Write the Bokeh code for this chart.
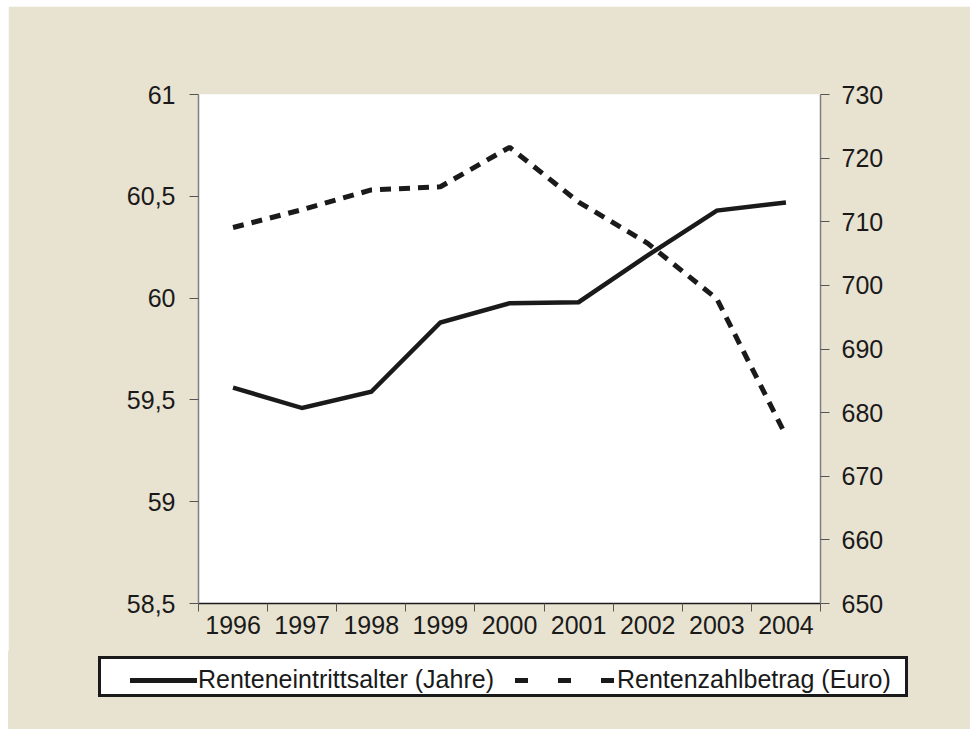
from bokeh.plotting import figure
from bokeh.layouts import column
from bokeh.models import (Range1d, LinearAxis, FixedTicker, CustomJSTickFormatter, Div)
from bokeh.embed import file_html
from bokeh.resources import INLINE

years = ["1996", "1997", "1998", "1999", "2000", "2001", "2002", "2003", "2004"]
eintrittsalter = [59.56, 59.46, 59.54, 59.88, 59.975, 59.98, 60.21, 60.43, 60.47]
zahlbetrag = [709.1, 711.9, 715.0, 715.5, 721.7, 713.1, 706.6, 697.9, 676.4]
left_ticks = [58.5, 59, 59.5, 60, 60.5, 61]
right_ticks = [650, 660, 670, 680, 690, 700, 710, 720, 730]
series_names = ["Renteneintrittsalter (Jahre)", "Rentenzahlbetrag (Euro)"]

BEIGE = "#e8e2d1"
INK = "#1a1a1a"
FONT = "Liberation Sans"
FS = "25px"

n = len(years)
xpos = [i + 0.5 for i in range(n)]

p = figure(width=962, height=645, output_backend="svg", toolbar_location=None,
           x_range=Range1d(0, n), y_range=Range1d(left_ticks[0], left_ticks[-1]),
           min_border_left=190, min_border_right=150, min_border_top=88,
           min_border_bottom=48, background_fill_color="white",
           border_fill_color=BEIGE, outline_line_color=None, margin=(6, 0, 0, 8))
p.grid.visible = False
p.extra_y_ranges = {"euro": Range1d(right_ticks[0], right_ticks[-1])}

# x axis: labels at category centres, ticks at category boundaries
xa = p.xaxis[0]
xa.ticker = FixedTicker(ticks=xpos, minor_ticks=list(range(n + 1)))
xa.formatter = CustomJSTickFormatter(args=dict(labels=years),
                                     code="return labels[Math.floor(tick)];")
xa.major_tick_line_color = None
xa.minor_tick_in = 0
xa.minor_tick_out = 8
xa.minor_tick_line_color = "#555555"
xa.axis_line_color = INK
xa.axis_line_width = 1.5
xa.major_label_standoff = 4
xa.major_label_text_font = FONT
xa.major_label_text_font_size = FS
xa.major_label_text_color = INK

comma = CustomJSTickFormatter(code="return String(tick).replace('.', ',');")

ya = p.yaxis[0]
ya.ticker = FixedTicker(ticks=left_ticks)
ya.formatter = comma
ya.minor_tick_line_color = None
ya.major_tick_in = 0
ya.major_tick_out = 9
ya.major_tick_line_color = "#555555"
ya.axis_line_color = "#808080"
ya.axis_line_width = 1.5
ya.major_label_standoff = 14
ya.major_label_text_font = FONT
ya.major_label_text_font_size = FS
ya.major_label_text_color = INK

ra = LinearAxis(y_range_name="euro", ticker=FixedTicker(ticks=right_ticks))
ra.minor_tick_line_color = None
ra.major_tick_in = 0
ra.major_tick_out = 9
ra.major_tick_line_color = "#555555"
ra.axis_line_color = "#808080"
ra.axis_line_width = 1.5
ra.major_label_standoff = 12
ra.major_label_text_font = FONT
ra.major_label_text_font_size = FS
ra.major_label_text_color = INK
p.add_layout(ra, "right")

p.line(xpos, eintrittsalter, line_width=4.5, line_color=INK, line_join="miter")
p.line(xpos, zahlbetrag, y_range_name="euro", line_width=5, line_color=INK,
       line_dash="11 8")

# legend strip below the chart (HTML, so it can extend beyond the plot frame)
legend_html = f"""
<div style="position:relative;width:962px;height:78px;background:{BEIGE};">
  <div style="position:absolute;left:90px;top:5px;width:810px;height:41px;
              border:3px solid {INK};background:#ffffff;
              font-family:'{FONT}';font-size:{FS};line-height:25px;color:{INK};">
    <div style="position:absolute;left:29px;top:19px;width:67px;height:5px;background:{INK};"></div>
    <span style="position:absolute;left:97px;top:8px;white-space:nowrap;">{series_names[0]}</span>
    <div style="position:absolute;left:414px;top:19px;width:99px;height:5px;
                background:repeating-linear-gradient(to right,{INK} 0px,{INK} 13px,transparent 13px,transparent 43px);"></div>
    <span style="position:absolute;left:516px;top:8px;white-space:nowrap;">{series_names[1]}</span>
  </div>
</div>
"""
leg = Div(text=legend_html, width=962, height=78, margin=(0, 0, 0, 8))

layout = column(p, leg, spacing=0)
open("out.html", "w").write(file_html(layout, INLINE))
